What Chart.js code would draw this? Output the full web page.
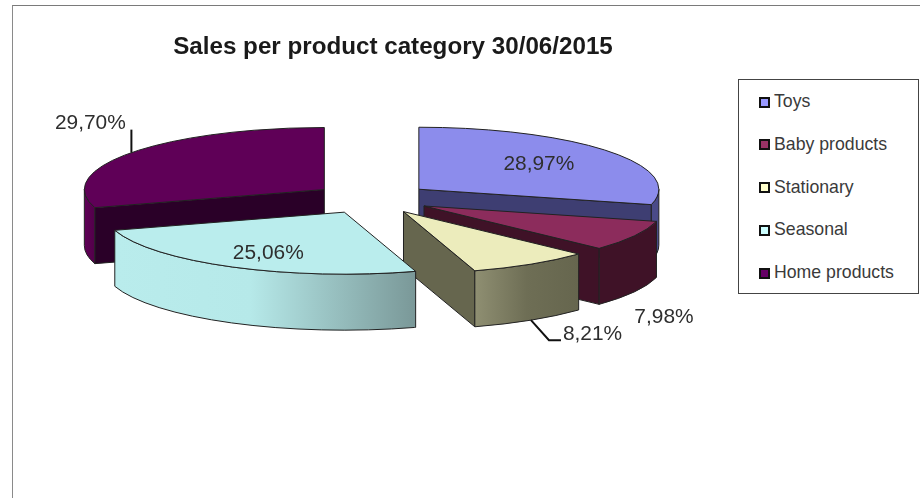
<!DOCTYPE html>
<html lang="en">
<head>
  <meta charset="UTF-8">
  <title>Sales per product category</title>
  <script src="https://cdn.jsdelivr.net/npm/chart.js"></script>
  <style>
    * {
      box-sizing: border-box;
      margin: 0;
      padding: 0;
    }

    body {
      width: 920px;
      height: 498px;
      overflow: hidden;
      background-color: #fff;
      font-family: 'Liberation Sans', Arial, sans-serif;
    }

    #salesChart {
      position: absolute;
      left: 0;
      top: 0;
    }

    .frame {
      position: absolute;
      left: 12px;
      top: 5px;
      width: 908px;
      height: 493px;
      border-top: 1.5px solid #7a7a7a;
      border-left: 1.5px solid #8a8a8a;
    }

    .legend {
      position: absolute;
      left: 738px;
      top: 79px;
      width: 181px;
      height: 215px;
      border: 1.5px solid #444;
      background-color: #fff;
    }

    .legend-item {
      position: absolute;
      left: 20px;
      height: 20px;
      line-height: 20px;
      font-size: 17.7px;
      color: #3a3a3a;
      white-space: nowrap;
    }

    .legend-swatch {
      display: inline-block;
      width: 11px;
      height: 11px;
      margin-right: 4px;
      border: 2px solid #111;
      vertical-align: -0.5px;
    }
  </style>
</head>
<body>
  <div class="frame"></div>
  <canvas id="salesChart" width="920" height="498"></canvas>
  <div class="legend" id="legend"></div>

  <script>
    const categories = ["Toys", "Baby products", "Stationary", "Seasonal", "Home products"];
    const shares = [28.97, 7.98, 8.21, 25.06, 29.70];

    const topColors = ["#8c8cec", "#8c2c5c", "#ececbc", "#baeded", "#5f0057"];
    const legendColors = ["#9999ff", "#993366", "#ffffcc", "#ccffff", "#660066"];
    const cutColors = ["#3e3e72", "#3f1227", "#66664e", "#7a9898", "#2a0028"];
    const rimStops = [
      [[0, "#4a4a88"], [1, "#4a4a88"]],
      [[0, "#3f1227"], [1, "#3f1227"]],
      [[0, "#8f8f72"], [0.5, "#6e6e55"], [1, "#66664e"]],
      [[0, "#b9ecec"], [0.45, "#b6e9e9"], [1, "#7a9898"]],
      [[0, "#5f0057"], [1, "#520049"]]
    ];

    // pie geometry: circle radius, how far slices are pulled out, tilt and wall height
    const RADIUS = 240;
    const EXPLODE = 59.3;
    const TILT = 62 / 240;
    const DEPTH = 56;
    // the pie sits a little left of the title's centre line
    const PIE_SHIFT_X = -21;

    // label centre relative to the slice apex
    const labelOffsets = [[120, -25], [240, 111], [189, 123], [-76, 41], [-234, -66]];
    // leader line bends relative to the rim point at the slice's middle angle
    const leaderBends = [null, null, [[18, 20], [30, 20]], null, [[0, -23]]];

    function formatShare(v) {
      return v.toFixed(2).replace(".", ",") + "%";
    }

    function apexOf(arc, area) {
      const cy = (area.top + area.bottom) / 2;
      return { x: arc.x, y: cy + (arc.y - cy) * TILT };
    }

    function rimPoint(apex, angle) {
      return { x: apex.x + RADIUS * Math.cos(angle), y: apex.y + RADIUS * TILT * Math.sin(angle) };
    }

    function drawCut(ctx, apex, angle, color) {
      const p = rimPoint(apex, angle);
      ctx.beginPath();
      ctx.moveTo(apex.x, apex.y);
      ctx.lineTo(p.x, p.y);
      ctx.lineTo(p.x, p.y + DEPTH);
      ctx.lineTo(apex.x, apex.y + DEPTH);
      ctx.closePath();
      ctx.fillStyle = color;
      ctx.fill();
      ctx.stroke();
    }

    function drawRim(ctx, apex, from, to, stops) {
      const a = rimPoint(apex, from);
      const b = rimPoint(apex, to);
      const left = Math.min(a.x, b.x, from < Math.PI && to > Math.PI ? apex.x - RADIUS : a.x);
      const right = Math.max(a.x, b.x);
      const grad = ctx.createLinearGradient(left, 0, right, 0);
      stops.forEach(s => grad.addColorStop(s[0], s[1]));
      ctx.beginPath();
      ctx.ellipse(apex.x, apex.y, RADIUS, RADIUS * TILT, 0, from, to);
      ctx.ellipse(apex.x, apex.y + DEPTH, RADIUS, RADIUS * TILT, 0, to, from, true);
      ctx.closePath();
      ctx.fillStyle = grad;
      ctx.fill();
      ctx.stroke();
    }

    const tiltedPie = {
      id: "tiltedPie",

      // pull the slices out by hand, the arc offset option also changes their radius
      afterDatasetsUpdate(chart) {
        const area = chart.chartArea;
        const cx = (area.left + area.right) / 2 + PIE_SHIFT_X;
        const cy = (area.top + area.bottom) / 2;
        chart.getDatasetMeta(0).data.forEach(arc => {
          const mid = (arc.startAngle + arc.endAngle) / 2;
          arc.x = cx + Math.cos(mid) * EXPLODE;
          arc.y = cy + Math.sin(mid) * EXPLODE;
        });
      },

      // walls first, back slices before front ones, then squash the canvas for the tops
      beforeDatasetsDraw(chart) {
        const ctx = chart.ctx;
        const area = chart.chartArea;
        const arcs = chart.getDatasetMeta(0).data;
        const order = arcs.map((a, i) => i).sort((i, j) => arcs[i].y - arcs[j].y);

        ctx.save();
        ctx.lineWidth = 1;
        ctx.strokeStyle = "#222";
        order.forEach(i => {
          const arc = arcs[i];
          const apex = apexOf(arc, area);
          if (-Math.cos(arc.startAngle) > 0.001) drawCut(ctx, apex, arc.startAngle, cutColors[i]);
          if (Math.cos(arc.endAngle) > 0.001) drawCut(ctx, apex, arc.endAngle, cutColors[i]);
          const from = Math.max(arc.startAngle, 0);
          const to = Math.min(arc.endAngle, Math.PI);
          if (to > from) drawRim(ctx, apex, from, to, rimStops[i]);
        });
        ctx.restore();

        const cy = (area.top + area.bottom) / 2;
        ctx.save();
        ctx.translate(0, cy);
        ctx.scale(1, TILT);
        ctx.translate(0, -cy);
      },

      afterDatasetsDraw(chart) {
        const ctx = chart.ctx;
        const area = chart.chartArea;
        ctx.restore();

        // outlines go on after the squash so the line width stays even
        const arcs = chart.getDatasetMeta(0).data;
        ctx.save();
        ctx.lineWidth = 1;
        ctx.strokeStyle = "#222";
        arcs.forEach(arc => {
          const apex = apexOf(arc, area);
          ctx.beginPath();
          ctx.moveTo(apex.x, apex.y);
          ctx.ellipse(apex.x, apex.y, RADIUS, RADIUS * TILT, 0, arc.startAngle, arc.endAngle);
          ctx.closePath();
          ctx.stroke();
        });

        // leader lines
        ctx.lineWidth = 2;
        ctx.strokeStyle = "#111";
        arcs.forEach((arc, i) => {
          if (!leaderBends[i]) return;
          const mid = (arc.startAngle + arc.endAngle) / 2;
          const p = rimPoint(apexOf(arc, area), mid);
          const y0 = Math.sin(mid) > 0 ? p.y + DEPTH : p.y;
          ctx.beginPath();
          ctx.moveTo(p.x, y0);
          leaderBends[i].forEach(b => ctx.lineTo(p.x + b[0], y0 + b[1]));
          ctx.stroke();
        });

        // percentage labels
        ctx.font = "20.9px 'Liberation Sans', Arial, sans-serif";
        ctx.fillStyle = "#2e2e2e";
        ctx.textAlign = "center";
        ctx.textBaseline = "middle";
        arcs.forEach((arc, i) => {
          const apex = apexOf(arc, area);
          ctx.fillText(formatShare(shares[i]), apex.x + labelOffsets[i][0], apex.y + labelOffsets[i][1]);
        });
        ctx.restore();
      }
    };

    new Chart(document.getElementById("salesChart"), {
      type: "pie",
      data: {
        labels: categories,
        datasets: [{
          data: shares,
          backgroundColor: topColors,
          borderWidth: 0
        }]
      },
      options: {
        responsive: false,
        animation: false,
        radius: RADIUS,
        layout: {
          padding: { left: 0, right: 134, top: 0, bottom: 162.8 }
        },
        plugins: {
          legend: { display: false },
          tooltip: { enabled: false },
          title: {
            display: true,
            text: "Sales per product category 30/06/2015",
            color: "#1a1a1a",
            font: { family: "'Liberation Sans', Arial, sans-serif", size: 24.2, weight: "bold" },
            padding: { top: 33, bottom: 0 }
          }
        }
      },
      plugins: [tiltedPie]
    });

    // legend sits in its own box next to the chart
    const legend = document.getElementById("legend");
    categories.forEach((name, i) => {
      const item = document.createElement("div");
      item.className = "legend-item";
      item.style.top = (11 + i * 42.8) + "px";
      const swatch = document.createElement("span");
      swatch.className = "legend-swatch";
      swatch.style.backgroundColor = legendColors[i];
      item.appendChild(swatch);
      item.appendChild(document.createTextNode(name));
      legend.appendChild(item);
    });
  </script>
</body>
</html>
